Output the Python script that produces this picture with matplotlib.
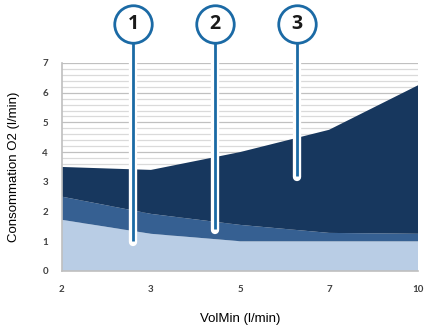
import matplotlib.pyplot as plt
import numpy as np

# data
volmin = ['2', '3', '5', '7', '10']
layer1 = [1.72, 1.25, 1.0, 1.0, 1.0]      # light blue (bottom)
layer2 = [0.78, 0.67, 0.55, 0.28, 0.25]   # medium blue
layer3 = [1.0, 1.48, 2.45, 3.47, 5.0]     # dark blue (top)

callout_labels = ['1', '2', '3']
callout_x = [0.80, 1.72, 2.64]   # position along the category axis
callout_end = [0.98, 1.38, 3.17]  # where the pointer stops

colors = ['#b9cde5', '#366092', '#17375e']
blue = '#1b6aa5'

fig = plt.figure(figsize=(4.24, 3.28), dpi=100)
ax = fig.add_axes([0.146, 0.174, 0.84, 0.634])

x = np.arange(len(volmin))
ax.stackplot(x, layer1, layer2, layer3, colors=colors, linewidth=0, zorder=2)

# horizontal grid every 0.2
for v in np.arange(0.2, 7.01, 0.2):
    major = abs(v - round(v)) < 1e-6
    ax.axhline(v, color='#c0c0c0' if major else '#dadada', lw=0.9, zorder=1)

ax.set_xlim(0, 4)
ax.set_ylim(0, 7)
ax.set_xticks(x)
ax.set_xticklabels(volmin, family='Lato', fontweight='bold')
ax.set_yticks(range(8))
ax.set_yticklabels([str(i) for i in range(8)], family='Lato', fontweight='bold')
ax.tick_params(length=0, labelsize=7, colors='#404040')
ax.tick_params(axis='x', pad=10)
ax.tick_params(axis='y', pad=10)
for s in ['top', 'right']:
    ax.spines[s].set_visible(False)
for s in ['left', 'bottom']:
    ax.spines[s].set_color('#bfbfbf')
    ax.spines[s].set_linewidth(1.2)
    ax.spines[s].set_zorder(5)

ax.set_xlabel('VolMin (l/min)', fontsize=9.5, family='Liberation Sans', labelpad=14)
ax.set_ylabel('Consommation O2 (l/min)', fontsize=9.5, family='Liberation Sans',
              labelpad=16)

# numbered callouts
top = 8.3
for lab, cx, cy in zip(callout_labels, callout_x, callout_end):
    ax.plot([cx, cx], [top, cy], color='white', lw=6, solid_capstyle='round',
            clip_on=False, zorder=6)
    ax.plot([cx, cx], [top, cy + 0.03], color=blue, lw=2, solid_capstyle='butt',
            clip_on=False, zorder=7)
    ax.plot(cx, top, marker='o', markersize=27, markerfacecolor='white',
            markeredgecolor=blue, markeredgewidth=2, clip_on=False, zorder=8)
    ax.text(cx, top, lab, ha='center', va='center', fontsize=14,
            family='Open Sans', fontweight='bold', color='#1a1a1a', zorder=9)

fig.savefig('out.png', dpi=100)
